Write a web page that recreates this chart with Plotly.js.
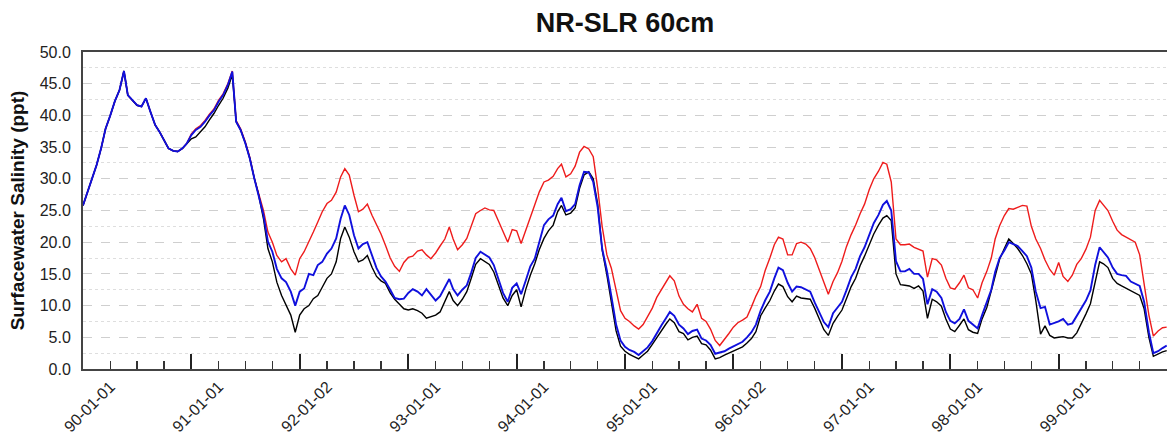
<!DOCTYPE html>
<html>
<head>
<meta charset="utf-8">
<script src="https://cdn.plot.ly/plotly-3.0.1.min.js"></script>
<style>html,body{margin:0;padding:0;background:#fff;}#chart{width:1167px;height:440px;}</style>
</head>
<body>
<div id="chart"></div>
<script>
// Sample dates (half-monthly), water years 1990-1999
const dates = [
"1989-10-01","1989-10-16","1989-11-01","1989-11-16","1989-12-01","1989-12-16",
"1990-01-01","1990-01-16","1990-02-01","1990-02-16","1990-03-01","1990-03-16","1990-04-01","1990-04-16","1990-05-01","1990-05-16","1990-06-01","1990-06-16","1990-07-01","1990-07-16","1990-08-01","1990-08-16","1990-09-01","1990-09-16",
"1990-10-01","1990-10-16","1990-11-01","1990-11-16","1990-12-01","1990-12-16",
"1991-01-01","1991-01-16","1991-02-01","1991-02-16","1991-03-01","1991-03-16","1991-04-01","1991-04-16","1991-05-01","1991-05-16","1991-06-01","1991-06-16","1991-07-01","1991-07-16","1991-08-01","1991-08-16","1991-09-01","1991-09-16",
"1991-10-01","1991-10-16","1991-11-01","1991-11-16","1991-12-01","1991-12-16",
"1992-01-01","1992-01-16","1992-02-01","1992-02-16","1992-03-01","1992-03-16","1992-04-01","1992-04-16","1992-05-01","1992-05-16","1992-06-01","1992-06-16","1992-07-01","1992-07-16","1992-08-01","1992-08-16","1992-09-01","1992-09-16",
"1992-10-01","1992-10-16","1992-11-01","1992-11-16","1992-12-01","1992-12-16",
"1993-01-01","1993-01-16","1993-02-01","1993-02-16","1993-03-01","1993-03-16","1993-04-01","1993-04-16","1993-05-01","1993-05-16","1993-06-01","1993-06-16","1993-07-01","1993-07-16","1993-08-01","1993-08-16","1993-09-01","1993-09-16",
"1993-10-01","1993-10-16","1993-11-01","1993-11-16","1993-12-01","1993-12-16",
"1994-01-01","1994-01-16","1994-02-01","1994-02-16","1994-03-01","1994-03-16","1994-04-01","1994-04-16","1994-05-01","1994-05-16","1994-06-01","1994-06-16","1994-07-01","1994-07-16","1994-08-01","1994-08-16","1994-09-01","1994-09-16",
"1994-10-01","1994-10-16","1994-11-01","1994-11-16","1994-12-01","1994-12-16",
"1995-01-01","1995-01-16","1995-02-01","1995-02-16","1995-03-01","1995-03-16","1995-04-01","1995-04-16","1995-05-01","1995-05-16","1995-06-01","1995-06-16","1995-07-01","1995-07-16","1995-08-01","1995-08-16","1995-09-01","1995-09-16",
"1995-10-01","1995-10-16","1995-11-01","1995-11-16","1995-12-01","1995-12-16",
"1996-01-01","1996-01-16","1996-02-01","1996-02-16","1996-03-01","1996-03-16","1996-04-01","1996-04-16","1996-05-01","1996-05-16","1996-06-01","1996-06-16","1996-07-01","1996-07-16","1996-08-01","1996-08-16","1996-09-01","1996-09-16",
"1996-10-01","1996-10-16","1996-11-01","1996-11-16","1996-12-01","1996-12-16",
"1997-01-01","1997-01-16","1997-02-01","1997-02-16","1997-03-01","1997-03-16","1997-04-01","1997-04-16","1997-05-01","1997-05-16","1997-06-01","1997-06-16","1997-07-01","1997-07-16","1997-08-01","1997-08-16","1997-09-01","1997-09-16",
"1997-10-01","1997-10-16","1997-11-01","1997-11-16","1997-12-01","1997-12-16",
"1998-01-01","1998-01-16","1998-02-01","1998-02-16","1998-03-01","1998-03-16","1998-04-01","1998-04-16","1998-05-01","1998-05-16","1998-06-01","1998-06-16","1998-07-01","1998-07-16","1998-08-01","1998-08-16","1998-09-01","1998-09-16",
"1998-10-01","1998-10-16","1998-11-01","1998-11-16","1998-12-01","1998-12-16",
"1999-01-01","1999-01-16","1999-02-01","1999-02-16","1999-03-01","1999-03-16","1999-04-01","1999-04-16","1999-05-01","1999-05-16","1999-06-01","1999-06-16","1999-07-01","1999-07-16","1999-08-01","1999-08-16","1999-09-01","1999-09-16",
"1999-09-30"
];

// Red series (highest salinity)
const redSeries = [
25.8,27.9,30.0,32.2,34.8,37.9,40.0,42.2,44.0,47.0,43.2,42.4,41.6,41.4,42.7,40.6,38.5,37.4,36.1,34.8,34.4,34.3,34.8,35.6,
37.1,37.9,38.4,39.2,40.2,41.0,42.4,43.4,45.0,47.0,39.2,37.9,35.8,33.4,
30.1,27.7,25.0,21.6,20.0,17.9,16.9,17.4,15.8,14.8,17.4,18.5,20.0,21.6,23.2,24.8,26.1,26.6,27.9,30.3,31.6,30.6,27.4,24.8,
25.2,26.0,24.2,22.8,21.3,19.5,17.5,16.2,15.4,16.8,
17.6,17.8,18.6,18.8,18.0,17.4,18.3,19.4,20.5,22.4,
20.5,18.8,19.6,20.6,22.5,24.5,25.0,25.4,25.1,25.0,
23.3,21.8,20.0,22.0,21.8,19.8,22.0,24.2,25.9,27.9,
29.5,29.8,30.4,31.6,32.3,30.3,30.8,32.0,34.2,35.1,
34.7,33.5,28.5,22.5,18.0,15.9,12.5,9.2,8.0,7.5,
6.8,6.3,
7.0,8.2,9.6,11.3,12.5,13.7,14.7,13.9,11.5,10.2,
9.5,9.0,10.2,8.0,7.5,6.3,4.5,3.7,4.6,5.6,
6.6,7.3,7.7,8.2,9.8,11.5,13.0,15.5,17.5,19.6,
20.8,20.5,18.0,18.0,19.8,20.0,19.7,19.0,17.6,15.8,
13.6,11.8,13.8,15.2,17.0,19.3,21.2,22.7,24.5,26.0,
28.3,30.0,31.2,32.6,32.3,29.5,20.5,19.6,19.6,19.7,
19.2,
18.9,18.6,14.5,17.4,17.2,16.4,14.3,12.8,12.6,13.6,
14.8,12.8,12.5,11.2,13.6,15.4,17.5,20.5,22.6,24.2,
25.3,25.2,25.5,25.8,25.7,22.5,20.5,19.0,17.2,15.7,
14.8,16.8,14.6,13.8,14.8,16.5,17.4,18.9,20.8,25.0,
26.6,25.9,25.0,23.3,21.9,21.2,20.8,20.5,20.0,18.0,
13.5,8.5,5.2,6.0,6.5,6.6
];

// Blue series
const blueSeries = [
25.8,27.9,30.0,32.2,34.8,37.9,40.0,42.2,44.0,47.0,43.2,42.4,41.6,41.4,42.7,40.6,38.5,37.4,36.1,34.8,34.4,34.3,34.8,35.6,
36.9,37.7,38.2,39.0,40.0,40.8,42.2,43.2,44.8,46.9,39.0,37.7,35.6,33.2,
30.1,27.4,24.3,20.1,18.5,15.8,14.3,13.7,12.2,10.0,12.2,12.7,15.0,14.8,16.4,16.9,18.2,19.0,20.6,23.7,25.8,24.3,21.1,19.0,
19.7,20.0,17.8,15.9,14.6,13.8,12.5,11.2,11.0,11.1,
12.0,12.6,12.2,11.6,12.6,11.8,10.8,11.5,12.8,14.2,
12.6,11.6,12.5,13.2,15.2,17.5,18.5,18.0,17.6,16.4,
14.0,12.0,10.6,12.8,13.5,11.8,14.0,16.2,17.4,20.0,
22.7,23.6,24.2,26.0,27.0,24.9,25.2,26.0,29.0,31.1,
31.0,29.5,25.5,19.0,15.5,11.5,7.0,4.5,3.5,3.0,
2.7,2.2,
2.8,3.4,4.4,5.7,6.9,8.0,9.0,8.4,7.0,6.4,
5.5,6.0,6.2,4.8,4.5,3.8,2.4,2.6,2.8,3.2,
3.6,3.9,4.3,5.0,5.8,7.0,9.2,10.8,12.2,14.3,
16.0,15.6,13.6,12.2,13.0,12.9,12.6,12.2,10.5,9.0,
7.4,6.6,8.8,9.7,10.6,12.4,14.5,15.8,17.8,19.2,
21.1,23.0,24.3,25.9,26.5,25.0,17.0,15.4,15.4,15.8,
15.0,
15.0,14.2,10.2,12.6,12.2,11.2,9.0,7.6,7.2,7.9,
9.4,7.6,7.0,6.4,8.5,10.4,12.5,15.3,17.5,18.7,
20.0,19.7,19.4,18.6,17.8,16.0,12.2,9.6,9.8,7.0,
7.2,7.5,7.9,7.0,7.2,8.4,9.6,10.8,12.4,16.4,
19.2,18.5,17.6,16.0,15.0,14.8,14.7,13.8,13.5,13.1,
10.6,5.8,2.5,2.8,3.3,3.7
];

// Black series (lowest salinity)
const blackSeries = [
25.8,27.9,30.0,32.2,34.8,37.9,40.0,42.2,44.0,47.0,43.2,42.4,41.6,41.4,42.7,40.6,38.5,37.4,36.1,34.8,34.4,34.3,34.8,35.6,
36.3,36.6,37.4,38.2,39.3,40.3,41.6,42.7,44.3,46.4,39.0,37.7,35.6,33.2,
30.1,27.4,23.7,19.0,16.9,13.7,11.6,10.0,8.5,5.8,8.5,9.5,10.0,11.1,11.6,12.9,14.3,15.0,16.9,20.6,22.4,20.8,18.5,16.9,
17.2,17.9,16.0,14.6,13.9,13.5,12.0,11.0,10.2,9.5,
9.3,9.5,9.2,8.8,8.0,8.3,8.5,9.0,10.6,12.2,
10.8,10.0,11.0,12.2,14.3,16.5,17.4,17.0,16.5,15.3,
13.0,11.2,10.0,11.6,12.5,9.8,12.6,14.8,16.6,18.8,
20.6,21.8,22.7,24.8,25.8,24.3,24.6,25.4,28.5,30.6,
31.1,30.0,26.0,18.8,14.8,10.5,6.0,3.6,2.8,2.3,
2.0,1.6,
2.2,2.8,3.9,5.0,6.0,7.1,7.9,7.3,5.9,5.6,
4.6,5.0,5.2,4.0,3.8,3.0,1.6,1.8,2.2,2.5,
2.9,3.2,3.5,4.1,4.8,5.9,8.4,9.6,10.8,12.3,
13.4,13.0,11.4,10.6,11.5,11.2,11.1,11.0,9.6,7.8,
6.2,5.3,7.2,8.3,9.3,11.1,13.0,14.3,16.3,17.8,
19.5,21.3,22.7,23.8,24.2,23.4,15.0,13.3,13.2,13.1,
12.7,
13.1,12.3,8.0,11.0,10.6,9.9,7.9,6.3,5.9,6.9,
7.9,6.2,5.8,5.6,7.9,9.7,12.3,14.8,17.3,19.0,
20.5,19.8,19.0,17.9,16.6,15.0,10.8,5.5,6.8,5.3,
4.9,5.0,5.1,4.9,4.9,5.7,7.1,8.7,10.3,13.8,
16.9,16.6,16.0,14.3,13.5,13.1,12.7,12.3,12.0,11.6,
9.5,5.0,2.0,2.4,2.7,2.9
];

// Tick labels
const labelDates = ["1990-01-01","1991-01-01","1992-01-02","1993-01-01","1994-01-01","1995-01-01","1996-01-02","1997-01-01","1998-01-01","1999-01-01"];
const labelTexts = ["90-01-01","91-01-01","92-01-02","93-01-01","94-01-01","95-01-01","96-01-02","97-01-01","98-01-01","99-01-01"];
const xRange = ["1989-10-01","1999-10-01"];

const FONT = "Liberation Sans, Arial, Helvetica, sans-serif";

const traces = [
  {x: dates, y: redSeries, type: "scatter", mode: "lines", xaxis: "x", yaxis: "y",
   line: {color: "#ee1c1c", width: 1.4}, hoverinfo: "skip"},
  {x: dates, y: blackSeries, type: "scatter", mode: "lines", xaxis: "x", yaxis: "y",
   line: {color: "#000000", width: 1.4}, hoverinfo: "skip"},
  {x: dates, y: blueSeries, type: "scatter", mode: "lines", xaxis: "x2", yaxis: "y",
   line: {color: "#1010dd", width: 1.9}, hoverinfo: "skip"}
];

const layout = {
  width: 1167, height: 440,
  margin: {l: 83, r: 0, t: 52, b: 71, pad: 0},
  paper_bgcolor: "#ffffff", plot_bgcolor: "#ffffff",
  showlegend: false, hovermode: false,
  font: {family: FONT, color: "#111"},
  title: {text: "NR-SLR 60cm", font: {family: FONT, size: 27, weight: "bold", color: "#111"},
          x: 0.5, xref: "paper", y: 1 - 23/440, yref: "container", yanchor: "middle"},
  xaxis: {
    type: "date", range: xRange, fixedrange: true,
    tickmode: "array", tickvals: labelDates, ticktext: labelTexts,
    tickangle: -45, ticks: "", ticklabelstandoff: 0, tickfont: {family: FONT, size: 16, color: "#222"},
    showgrid: false, zeroline: false,
    showline: true, linecolor: "#444", linewidth: 2, mirror: true
  },
  xaxis2: {
    type: "date", range: xRange, fixedrange: true, overlaying: "x", side: "bottom",
    tickmode: "linear", tick0: "1989-10-01", dtick: "M12",
    ticks: "inside", ticklen: 15, tickwidth: 1.8, tickcolor: "#222",
    showticklabels: false, showgrid: false, zeroline: false, showline: false,
    minor: {ticks: "inside", tick0: "1989-10-01", dtick: "M3", ticklen: 8, tickwidth: 1.5, tickcolor: "#333", showgrid: false}
  },
  yaxis: {
    range: [0, 50], fixedrange: true, tickmode: "linear", tick0: 0, dtick: 5, tickformat: ".1f",
    ticks: "", ticklabelstandoff: 7, tickfont: {family: FONT, size: 16, color: "#222"},
    showgrid: true, gridcolor: "#cfcfcf", gridwidth: 1, griddash: "dash",
    minor: {dtick: 2.5, showgrid: true, gridcolor: "#dedede", gridwidth: 1, griddash: "dot"},
    zeroline: false, showline: true, linecolor: "#444", linewidth: 2, mirror: false,
    title: {text: "Surfacewater Salinity (ppt)", font: {family: FONT, size: 19, weight: "bold", color: "#111"}, standoff: 10}
  }
};

Plotly.newPlot("chart", traces, layout, {staticPlot: true, displayModeBar: false});
</script>
</body>
</html>
